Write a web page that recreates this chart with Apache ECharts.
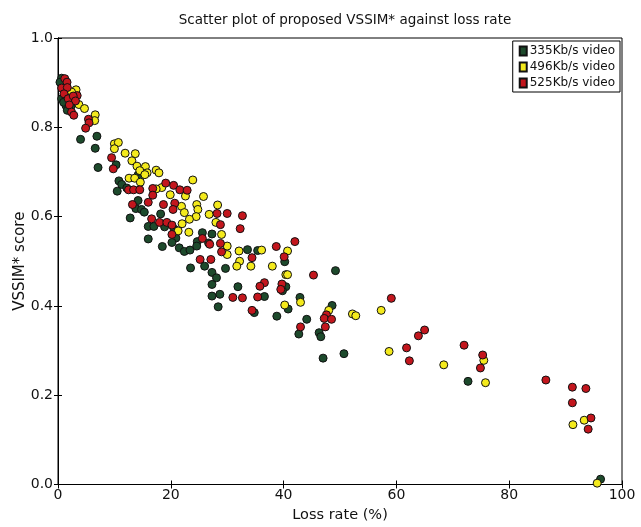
<!DOCTYPE html>
<html>
<head>
<meta charset="utf-8">
<script src="https://cdn.jsdelivr.net/npm/echarts@6/dist/echarts.min.js"></script>
<style>html,body{margin:0;padding:0;background:#fff;}#c{width:641px;height:527px;}</style>
</head>
<body>
<div id="c"></div>
<script>
const seriesNames = ['335Kb/s video', '496Kb/s video', '525Kb/s video'];
const xTicks = [0, 20, 40, 60, 80, 100];
const yTicks = [0.0, 0.2, 0.4, 0.6, 0.8, 1.0];

const green335 = [
  [0.65,0.910],[0.35,0.901],[0.65,0.864],[1.4,0.849],[2.3,0.847],[1.65,0.838],[1.0,0.856],
  [4.0,0.773],[6.9,0.780],[6.6,0.753],[7.1,0.710],
  [10.3,0.716],[14.2,0.693],[14.5,0.685],[10.8,0.680],[11.3,0.672],[10.5,0.657],[12.2,0.664],
  [14.2,0.636],[13.8,0.618],[14.8,0.616],[15.3,0.610],[12.8,0.597],[16.0,0.578],[16.0,0.550],
  [18.2,0.606],[17.0,0.578],[18.9,0.577],[20.6,0.572],[20.9,0.552],[20.2,0.542],[25.6,0.564],
  [27.3,0.561],[24.7,0.544],[26.7,0.541],[18.5,0.533],[21.5,0.530],[22.4,0.522],[23.4,0.525],
  [24.6,0.534],[33.6,0.526],[35.4,0.524],[23.5,0.485],[26.0,0.489],[29.7,0.484],[27.3,0.475],
  [28.1,0.463],
  [40.2,0.499],[40.4,0.443],[39.8,0.434],[31.9,0.443],[28.7,0.426],[27.3,0.422],[36.6,0.421],
  [42.9,0.419],[28.4,0.398],[40.8,0.393],[34.8,0.385],[38.8,0.377],[44.1,0.370],[27.3,0.448],
  [42.7,0.337],[46.3,0.340],
  [49.2,0.479],[48.6,0.401],[46.6,0.331],[47.0,0.283],[50.7,0.293],
  [72.7,0.231],[96.2,0.012]
];
const yellow496 = [
  [3.2,0.884],[2.4,0.879],[3.7,0.851],[4.7,0.842],[6.6,0.828],[6.5,0.815],
  [10.0,0.763],[10.7,0.766],[10.0,0.752],[11.9,0.742],[13.7,0.741],[13.1,0.725],[14.0,0.713],
  [15.5,0.712],[14.5,0.703],[15.8,0.698],[12.6,0.686],[13.6,0.686],[15.4,0.694],[14.6,0.677],
  [17.4,0.704],
  [17.9,0.698],[23.9,0.682],[18.4,0.665],[17.4,0.662],[19.9,0.649],[22.6,0.646],[21.9,0.623],
  [24.6,0.627],[25.8,0.645],[28.3,0.626],[22.4,0.609],[24.8,0.616],[24.5,0.600],[26.8,0.605],
  [23.3,0.594],[28.0,0.587],[22.0,0.584],[21.3,0.568],[23.2,0.565],[29.0,0.560],[30.0,0.534],
  [30.0,0.515],[32.1,0.523],[32.2,0.500],[31.7,0.489],[34.2,0.489],
  [36.1,0.525],[40.7,0.523],[38.0,0.489],[40.4,0.470],[40.7,0.470],[43.0,0.408],[40.2,0.402],
  [57.3,0.390],[52.2,0.382],[52.8,0.378],[48.0,0.390],[58.7,0.298],
  [75.5,0.278],[75.8,0.228],[68.4,0.268],[93.3,0.144],[91.3,0.134],[95.6,0.003]
];
const red525 = [
  [1.2,0.909],[1.6,0.901],[0.65,0.888],[1.65,0.889],[1.06,0.875],[3.4,0.871],[1.8,0.864],
  [2.7,0.870],[3.1,0.859],[2.0,0.850],[2.4,0.834],[2.8,0.827],[5.4,0.818],[5.5,0.810],[4.9,0.798],
  [9.5,0.732],[9.8,0.707],[12.5,0.660],[13.4,0.660],[14.5,0.660],[13.2,0.627],[16.0,0.632],
  [19.1,0.675],[20.5,0.670],[16.8,0.663],[21.6,0.660],[22.9,0.659],[16.8,0.648],[20.7,0.630],
  [18.7,0.627],[20.4,0.616],[28.2,0.607],[30.0,0.607],[28.8,0.582],[32.7,0.602],[32.3,0.573],
  [16.6,0.595],[18.0,0.587],[19.3,0.587],[20.2,0.581],[20.2,0.560],[25.6,0.551],[26.9,0.538],
  [28.8,0.540],[29.0,0.521],[34.4,0.508],[25.2,0.504],[27.1,0.504],
  [42.0,0.544],[38.7,0.533],[40.1,0.510],[45.3,0.469],[36.6,0.452],[35.8,0.444],[39.7,0.449],
  [39.5,0.437],[31.0,0.419],[32.7,0.418],[35.4,0.420],[34.4,0.390],[43.0,0.353],
  [59.1,0.417],[47.6,0.380],[47.2,0.372],[48.5,0.370],[47.4,0.353],[65.0,0.346],[63.9,0.333],
  [61.8,0.306],[62.3,0.277],
  [72.0,0.312],[75.3,0.290],[74.9,0.261],[86.5,0.234],[91.2,0.218],[93.6,0.215],[91.2,0.183],
  [94.5,0.149],[94.0,0.124]
];

const colors = ['#1d4a2c', '#f4ea1c', '#c3161d'];
const FONT = 'DejaVu Sans';
const chart = echarts.init(document.getElementById('c'), null, {renderer: 'canvas'});

const tickStyle = {inside: true, length: 4, lineStyle: {color: '#000', width: 1}};
const lineStyle = {lineStyle: {color: '#000', width: 1}};

function mkSeries(name, data, color) {
  return {
    name: name, type: 'scatter', data: data, symbol: 'circle', symbolSize: 8,
    itemStyle: {color: color, borderColor: '#111', borderWidth: 1, opacity: 1},
    emphasis: {disabled: true}, animation: false
  };
}

chart.setOption({
  animation: false,
  backgroundColor: '#fff',
  title: {
    text: 'Scatter plot of proposed VSSIM* against loss rate',
    left: 340, top: 8, textAlign: 'center',
    textStyle: {fontFamily: FONT, fontSize: 13.5, fontWeight: 'normal', color: '#111'}
  },
  legend: {
    data: seriesNames, orient: 'vertical', right: 21, top: 41,
    icon: 'rect', itemWidth: 7, itemHeight: 9, itemGap: 4,
    borderColor: '#000', borderWidth: 1, padding: [4, 5, 3, 6], backgroundColor: '#fff',
    textStyle: {fontFamily: FONT, fontSize: 12, color: '#111', padding: [0, 0, 0, -2]}
  },
  grid: {left: 58, right: 19, top: 38, bottom: 42.5, containLabel: false, outerBoundsMode: 'none',
    show: true, borderColor: '#000', borderWidth: 1},
  xAxis: [{
    type: 'value', min: xTicks[0], max: xTicks[xTicks.length - 1], interval: 20,
    name: 'Loss rate (%)', nameLocation: 'middle', nameGap: 22,
    nameTextStyle: {fontFamily: FONT, fontSize: 14.5, color: '#111'},
    axisLine: lineStyle, axisTick: tickStyle, splitLine: {show: false},
    axisLabel: {fontFamily: FONT, fontSize: 14, color: '#111', margin: 4}
  }, {
    type: 'value', position: 'top', min: 0, max: 100, interval: 20,
    axisLine: lineStyle, axisTick: tickStyle, splitLine: {show: false}, axisLabel: {show: false}
  }],
  yAxis: [{
    type: 'value', min: yTicks[0], max: yTicks[yTicks.length - 1], interval: 0.2,
    name: 'VSSIM* score', nameLocation: 'middle', nameGap: 30, nameMoveOverlap: false,
    nameTextStyle: {fontFamily: FONT, fontSize: 15, color: '#111'},
    axisLine: lineStyle, axisTick: tickStyle, splitLine: {show: false},
    axisLabel: {fontFamily: FONT, fontSize: 14, color: '#111', margin: 5,
      formatter: v => v.toFixed(1)}
  }, {
    type: 'value', position: 'right', min: 0, max: 1, interval: 0.2,
    axisLine: lineStyle, axisTick: tickStyle, splitLine: {show: false}, axisLabel: {show: false}
  }],
  series: [
    mkSeries(seriesNames[0], green335, colors[0]),
    mkSeries(seriesNames[1], yellow496, colors[1]),
    mkSeries(seriesNames[2], red525, colors[2])
  ]
});
</script>
</body>
</html>
